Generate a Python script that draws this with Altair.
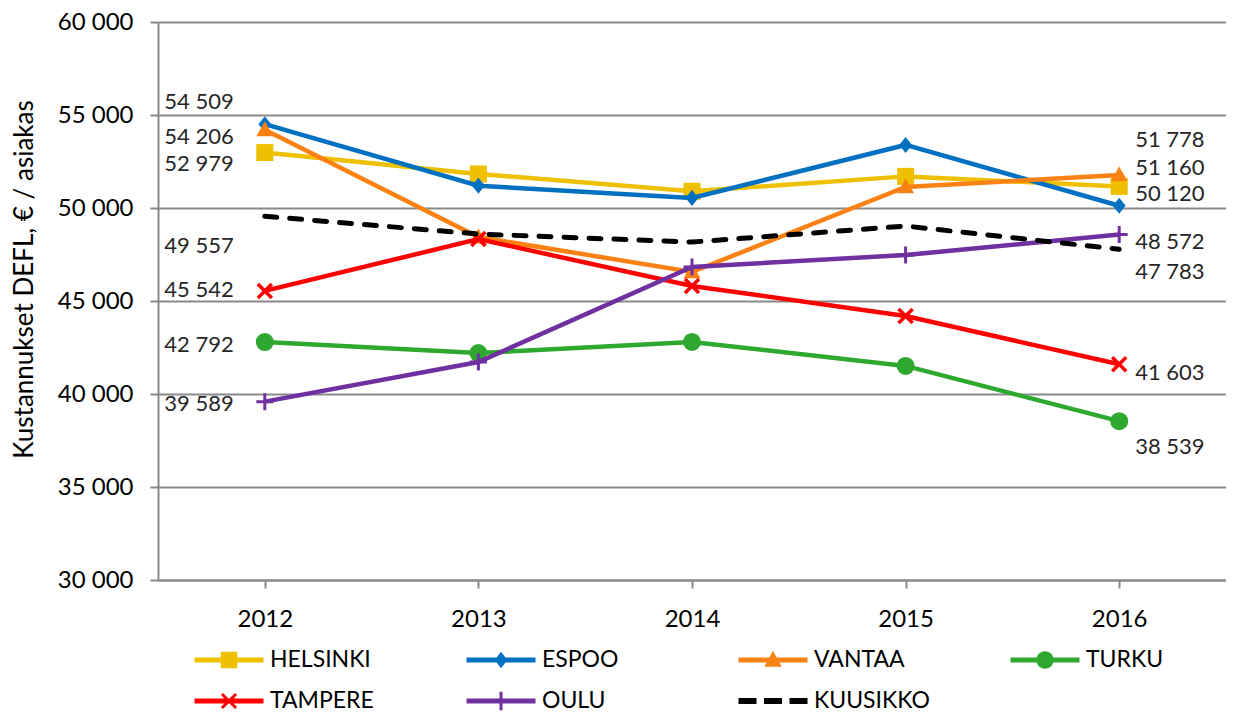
import altair as alt
import pandas as pd

YEARS = ["2012", "2013", "2014", "2015", "2016"]
SERIES = ["HELSINKI", "ESPOO", "VANTAA", "TURKU", "TAMPERE", "OULU", "KUUSIKKO"]

HELSINKI = [52979, 51830, 50900, 51700, 51160]
ESPOO = [54509, 51200, 50540, 53390, 50120]
VANTAA = [54206, 48440, 46560, 51130, 51778]
TURKU = [42792, 42200, 42800, 41510, 38539]
TAMPERE = [45542, 48330, 45810, 44190, 41603]
OULU = [39589, 41720, 46830, 47470, 48572]
KUUSIKKO = [49557, 48600, 48170, 49030, 47783]

VALUES = {
    "HELSINKI": HELSINKI, "ESPOO": ESPOO, "VANTAA": VANTAA, "TURKU": TURKU,
    "TAMPERE": TAMPERE, "OULU": OULU, "KUUSIKKO": KUUSIKKO,
}
Y_TICKS = [30000, 35000, 40000, 45000, 50000, 55000, 60000]
Y_TITLE = "Kustannukset DEFL, € / asiakas"

# ---- styles ----
COLORS = {
    "HELSINKI": "#EEC000", "ESPOO": "#0070C0", "VANTAA": "#FA8214",
    "TURKU": "#2EA82E", "TAMPERE": "#FF0000", "OULU": "#7030A0", "KUUSIKKO": "#000000",
}
MARKERS = {
    "HELSINKI": dict(shape="square", size=289, filled=True),
    "ESPOO": dict(shape="M0,-1L0.8,0L0,1L-0.8,0Z", size=256, filled=True),
    "VANTAA": dict(shape="M0,-1L1,0.75L-1,0.75Z", size=289, filled=True),
    "TURKU": dict(shape="circle", size=324, filled=True),
    "TAMPERE": dict(shape="M-1,-1L1,1M-1,1L1,-1", size=196, filled=False, strokeWidth=3.5),
    "OULU": dict(shape="M-1,0H1M0,-1V1", size=289, filled=False, strokeWidth=3),
}
LINE = "M-2.3,-0.17H2.3V0.17H-2.3Z"
LEGEND_PATHS = {
    "HELSINKI": LINE + "M-0.55,-0.55H0.55V0.55H-0.55Z",
    "ESPOO": LINE + "M0,-0.55L0.42,0L0,0.55L-0.42,0Z",
    "VANTAA": LINE + "M0,-0.62L0.58,0.45L-0.58,0.45Z",
    "TURKU": LINE + "M-0.58,0A0.58,0.58 0 1,1 0.58,0A0.58,0.58 0 1,1 -0.58,0Z",
    "TAMPERE": LINE + "M-0.40,-0.54L0.54,0.40L0.40,0.54L-0.54,-0.40Z"
                      "M-0.40,0.54L-0.54,0.40L0.40,-0.54L0.54,-0.40Z",
    "OULU": LINE + "M-0.1,-0.62H0.1V0.62H-0.1Z",
    "KUUSIKKO": "M-2.3,-0.2H-1.1V0.2H-2.3Z M-0.6,-0.2H0.6V0.2H-0.6Z M1.1,-0.2H2.3V0.2H1.1Z",
}
LEFT_DY = {"ESPOO": -22, "VANTAA": 7, "HELSINKI": 11, "KUUSIKKO": 30,
           "TAMPERE": -1, "TURKU": 3, "OULU": 2}
RIGHT_DY = {"VANTAA": -35, "HELSINKI": -18, "ESPOO": -12, "OULU": 7,
            "KUUSIKKO": 23, "TAMPERE": 9, "TURKU": 26}
FONT = "Lato"
GRID = "#898989"

rows = []
for s in SERIES:
    for yr, v in zip(YEARS, VALUES[s]):
        rows.append({"series": s, "year": yr, "value": v})
df = pd.DataFrame(rows)

num_expr = "replace(format(datum.value, ',d'), ',', ' ')"

x = alt.X(
    "year:O",
    scale=alt.Scale(type="point", padding=0.5, domain=YEARS),
    axis=alt.Axis(
        title=None, labelAngle=0, labelFont=FONT, labelFontSize=24, labelColor="#000",
        labelPadding=19, tickSize=8, tickColor=GRID, tickWidth=2,
        domainColor=GRID, domainWidth=2, grid=False,
    ),
)
y = alt.Y(
    "value:Q",
    scale=alt.Scale(domain=[30000, 60000], nice=False, zero=False),
    axis=alt.Axis(
        values=Y_TICKS, labelExpr=num_expr, labelFont=FONT, labelFontSize=24,
        labelColor="#000", labelPadding=17, tickSize=8, tickColor=GRID, tickWidth=2,
        domainColor=GRID, domainWidth=2, grid=True, gridColor=GRID, gridWidth=2,
        title=Y_TITLE, titleFont=FONT, titleFontSize=26, titleFontWeight="normal",
        titleColor="#000", titleAngle=270, titleX=-134, titleY=257,
        titleAlign="center", titleBaseline="middle",
    ),
)

base = alt.Chart(df).transform_calculate(label=num_expr)
layers = []
for s in SERIES:
    sub = base.transform_filter(alt.datum.series == s)
    if s == "KUUSIKKO":
        line = sub.mark_line(color=COLORS[s], strokeWidth=5, strokeDash=[12, 13], strokeCap="round")
    else:
        line = sub.mark_line(color=COLORS[s], strokeWidth=4.5)
    layers.append(line.encode(x=x, y=y))
    if s in MARKERS:
        m = dict(MARKERS[s])
        layers.append(sub.mark_point(color=COLORS[s], opacity=1, **m).encode(x=x, y=y))

for s in SERIES:
    left = base.transform_filter((alt.datum.series == s) & (alt.datum.year == YEARS[0]))
    layers.append(left.mark_text(align="right", baseline="middle", dx=-31, dy=LEFT_DY[s],
                                 font=FONT, fontSize=22, color="#262626")
                  .encode(x=x, y=y, text="label:N"))
    right = base.transform_filter((alt.datum.series == s) & (alt.datum.year == YEARS[-1]))
    layers.append(right.mark_text(align="left", baseline="middle", dx=16, dy=RIGHT_DY[s],
                                  font=FONT, fontSize=22, color="#262626")
                  .encode(x=x, y=y, text="label:N"))

legend = alt.Legend(
    title=None, orient="none", legendX=56, legendY=623, columns=4, direction="horizontal",
    gridAlign="all", columnPadding=80, rowPadding=14, symbolSize=900, symbolStrokeWidth=0,
    symbolOpacity=1, labelOffset=26, labelFont=FONT, labelFontSize=23, labelColor="#000",
    labelLimit=300,
)
leg_layer = base.transform_filter("false").mark_point(filled=True, opacity=1).encode(
    x=x, y=y,
    color=alt.Color("series:N", scale=alt.Scale(domain=SERIES, range=[COLORS[s] for s in SERIES]),
                    legend=legend),
    shape=alt.Shape("series:N", scale=alt.Scale(domain=SERIES, range=[LEGEND_PATHS[s] for s in SERIES]),
                    legend=legend),
)
layers.append(leg_layer)

chart = alt.layer(*layers).properties(
    width=1068, height=558,
    autosize=alt.AutoSizeParams(type="none"),
    padding={"left": 150, "top": 14, "right": 0, "bottom": 132},
).configure_view(stroke=GRID, strokeWidth=2).configure(background="white")

chart.save("out.html", embed_options={"renderer": "svg", "actions": False})
